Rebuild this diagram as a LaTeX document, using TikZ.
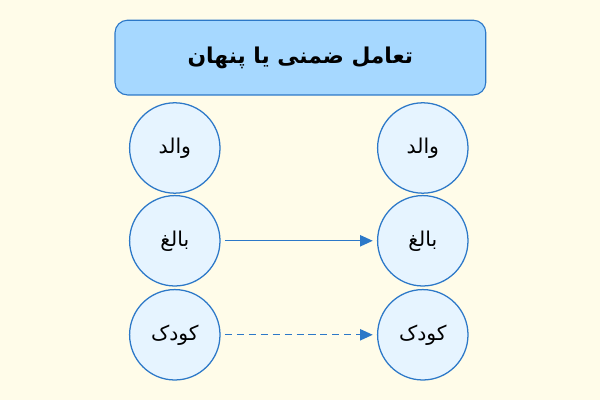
\documentclass[tikz,border=0pt]{standalone}
\usepackage{fontspec}
\newfontfamily\arabicfont[Script=Arabic]{DejaVu Sans}
\TeXXeTstate=1
\usetikzlibrary{arrows.meta}

\definecolor{bgcream}{HTML}{FFFCE9}
\definecolor{boxblue}{HTML}{A6D8FF}
\definecolor{circblue}{HTML}{E6F4FF}
\definecolor{lineblue}{HTML}{2C78C8}

\tikzset{
    titlebox/.style={draw=lineblue, fill=boxblue, rounded corners=9pt, line width=0.8pt,
        minimum width=9.27cm, minimum height=1.87cm, font=\arabicfont\bfseries\fontsize{15.5}{19}\selectfont},
    egostate/.style={circle, draw=lineblue, fill=circblue, line width=0.9pt,
        minimum size=2.26cm, inner sep=0pt, font=\arabicfont\fontsize{14.5}{17}\selectfont},
    link/.style={draw=lineblue, line width=0.9pt, -{Triangle[length=9pt, width=8pt]}}
}

\begin{document}
\begin{tikzpicture}
            \fill[bgcream] (0, 0) rectangle (15, 10);
            \useasboundingbox (0, 0) rectangle (15, 10);
            
            \node[titlebox] (t) at (7.51, 8.56) {\beginR تعامل ضمنی یا پنهان\endR};
            
            \node[egostate] (l0) at (4.37, 6.30) {\beginR والد\endR};
            \node[egostate] (l1) at (4.37, 3.98) {\beginR بالغ\endR};
            \node[egostate] (l2) at (4.37, 1.63) {\beginR کودک\endR};
            
            \node[egostate] (r0) at (10.57, 6.30) {\beginR والد\endR};
            \node[egostate] (r1) at (10.57, 3.98) {\beginR بالغ\endR};
            \node[egostate] (r2) at (10.57, 1.63) {\beginR کودک\endR};
            
            \draw[link] ([xshift=3pt]l1.east) -- ([xshift=-3pt]r1.west);
            \draw[link, dash pattern=on 5pt off 3.5pt] ([xshift=3pt]l2.east) -- ([xshift=-3pt]r2.west);
        \end{tikzpicture}
\end{document}
